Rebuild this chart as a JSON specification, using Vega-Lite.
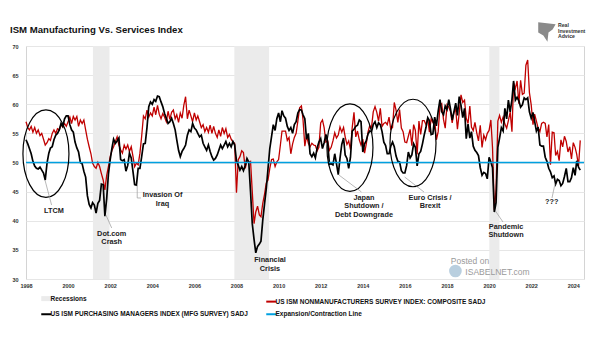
{
"$schema": "https://vega.github.io/schema/vega-lite/v6.json",
"width": 558, "height": 233,
"autosize": {"type": "none"},
"padding": {"left": 26, "top": 46, "right": 21, "bottom": 62},
"background": "white",
"title": {"text": "ISM Manufacturing Vs. Services Index", "anchor": "start", "frame": "group", "dx": -16, "offset": -12.5, "font": "Liberation Sans", "fontSize": 9.6, "fontWeight": "bold", "color": "#111111"},
"config": {"view": {"stroke": "#d4d4d4"}, "font": "Liberation Sans"},
"datasets": {
"ism": [
{"d":"1998-01","m":53.9,"s":57.0},{"d":"1998-02","m":53.2,"s":56.0},{"d":"1998-03","m":52.4,"s":55.6},{"d":"1998-04","m":51.5,"s":56.2},{"d":"1998-05","m":50.2,"s":55.2},{"d":"1998-06","m":49.4,"s":56.0},{"d":"1998-07","m":49.0,"s":55.0},{"d":"1998-08","m":48.9,"s":55.6},{"d":"1998-09","m":49.2,"s":54.6},{"d":"1998-10","m":48.7,"s":55.0},{"d":"1998-11","m":48.2,"s":54.0},{"d":"1998-12","m":47.0,"s":53.0},
{"d":"1999-01","m":49.9,"s":53.4},{"d":"1999-02","m":51.6,"s":54.1},{"d":"1999-03","m":52.5,"s":53.8},{"d":"1999-04","m":52.7,"s":55.0},{"d":"1999-05","m":53.9,"s":55.6},{"d":"1999-06","m":54.7,"s":55.0},{"d":"1999-07","m":55.0,"s":55.8},{"d":"1999-08","m":55.6,"s":55.6},{"d":"1999-09","m":56.7,"s":56.5},{"d":"1999-10","m":56.2,"s":56.1},{"d":"1999-11","m":57.5,"s":56.7},{"d":"1999-12","m":58.0,"s":56.2},
{"d":"2000-01","m":58.0,"s":57.0},{"d":"2000-02","m":56.5,"s":57.8},{"d":"2000-03","m":55.6,"s":56.7},{"d":"2000-04","m":55.2,"s":57.9},{"d":"2000-05","m":53.5,"s":57.3},{"d":"2000-06","m":52.5,"s":57.9},{"d":"2000-07","m":51.8,"s":56.2},{"d":"2000-08","m":50.0,"s":57.3},{"d":"2000-09","m":49.8,"s":56.7},{"d":"2000-10","m":48.5,"s":57.3},{"d":"2000-11","m":47.5,"s":55.6},{"d":"2000-12","m":44.3,"s":54.0},
{"d":"2001-01","m":42.8,"s":52.7},{"d":"2001-02","m":42.2,"s":51.5},{"d":"2001-03","m":43.1,"s":49.9},{"d":"2001-04","m":42.7,"s":49.3},{"d":"2001-05","m":41.3,"s":49.0},{"d":"2001-06","m":43.0,"s":50.0},{"d":"2001-07","m":43.5,"s":49.3},{"d":"2001-08","m":46.3,"s":48.1},{"d":"2001-09","m":46.2,"s":47.0},{"d":"2001-10","m":40.8,"s":45.3},{"d":"2001-11","m":43.8,"s":47.8},{"d":"2001-12","m":48.0,"s":49.3},
{"d":"2002-01","m":50.5,"s":51.0},{"d":"2002-02","m":52.5,"s":52.1},{"d":"2002-03","m":54.0,"s":52.7},{"d":"2002-04","m":53.3,"s":53.6},{"d":"2002-05","m":53.7,"s":54.4},{"d":"2002-06","m":54.2,"s":53.0},{"d":"2002-07","m":50.5,"s":52.2},{"d":"2002-08","m":50.3,"s":51.6},{"d":"2002-09","m":50.5,"s":53.0},{"d":"2002-10","m":48.5,"s":52.3},{"d":"2002-11","m":49.5,"s":53.0},{"d":"2002-12","m":51.6,"s":51.9},
{"d":"2003-01","m":50.8,"s":52.7},{"d":"2003-02","m":48.4,"s":51.0},{"d":"2003-03","m":46.2,"s":49.3},{"d":"2003-04","m":46.1,"s":49.9},{"d":"2003-05","m":49.0,"s":49.6},{"d":"2003-06","m":49.0,"s":51.6},{"d":"2003-07","m":51.0,"s":54.5},{"d":"2003-08","m":53.2,"s":58.0},{"d":"2003-09","m":53.3,"s":57.5},{"d":"2003-10","m":56.0,"s":59.0},{"d":"2003-11","m":59.6,"s":57.8},{"d":"2003-12","m":60.4,"s":58.5},
{"d":"2004-01","m":60.0,"s":58.0},{"d":"2004-02","m":60.8,"s":59.5},{"d":"2004-03","m":60.5,"s":58.2},{"d":"2004-04","m":61.4,"s":59.8},{"d":"2004-05","m":61.3,"s":58.3},{"d":"2004-06","m":60.4,"s":57.5},{"d":"2004-07","m":59.6,"s":58.4},{"d":"2004-08","m":58.4,"s":57.8},{"d":"2004-09","m":57.6,"s":57.0},{"d":"2004-10","m":56.7,"s":58.8},{"d":"2004-11","m":57.0,"s":57.4},{"d":"2004-12","m":57.6,"s":58.6},
{"d":"2005-01","m":56.7,"s":59.0},{"d":"2005-02","m":55.6,"s":57.5},{"d":"2005-03","m":53.9,"s":58.2},{"d":"2005-04","m":52.1,"s":56.9},{"d":"2005-05","m":51.0,"s":58.5},{"d":"2005-06","m":51.9,"s":57.6},{"d":"2005-07","m":52.4,"s":59.8},{"d":"2005-08","m":53.0,"s":61.3},{"d":"2005-09","m":54.7,"s":57.5},{"d":"2005-10","m":55.6,"s":59.0},{"d":"2005-11","m":55.3,"s":58.0},{"d":"2005-12","m":56.7,"s":57.0},
{"d":"2006-01","m":55.9,"s":58.5},{"d":"2006-02","m":55.6,"s":57.3},{"d":"2006-03","m":55.0,"s":58.0},{"d":"2006-04","m":54.4,"s":57.0},{"d":"2006-05","m":54.7,"s":56.0},{"d":"2006-06","m":53.3,"s":56.5},{"d":"2006-07","m":52.7,"s":55.3},{"d":"2006-08","m":52.1,"s":56.0},{"d":"2006-09","m":53.0,"s":55.2},{"d":"2006-10","m":51.9,"s":56.4},{"d":"2006-11","m":51.0,"s":55.0},{"d":"2006-12","m":50.4,"s":56.2},
{"d":"2007-01","m":50.7,"s":55.0},{"d":"2007-02","m":51.3,"s":54.3},{"d":"2007-03","m":52.1,"s":55.6},{"d":"2007-04","m":53.0,"s":54.5},{"d":"2007-05","m":52.4,"s":56.0},{"d":"2007-06","m":53.0,"s":55.0},{"d":"2007-07","m":53.6,"s":55.8},{"d":"2007-08","m":52.7,"s":54.3},{"d":"2007-09","m":53.3,"s":54.8},{"d":"2007-10","m":52.7,"s":54.0},{"d":"2007-11","m":53.6,"s":53.5},{"d":"2007-12","m":53.0,"s":53.3},
{"d":"2008-01","m":50.3,"s":44.8},{"d":"2008-02","m":49.5,"s":50.5},{"d":"2008-03","m":48.7,"s":51.0},{"d":"2008-04","m":49.3,"s":52.0},{"d":"2008-05","m":48.6,"s":51.7},{"d":"2008-06","m":49.5,"s":49.0},{"d":"2008-07","m":50.7,"s":50.3},{"d":"2008-08","m":50.1,"s":50.0},{"d":"2008-09","m":45.0,"s":50.2},{"d":"2008-10","m":39.5,"s":45.0},{"d":"2008-11","m":36.8,"s":39.5},{"d":"2008-12","m":34.5,"s":41.5},
{"d":"2009-01","m":35.6,"s":42.5},{"d":"2009-02","m":36.0,"s":41.0},{"d":"2009-03","m":36.5,"s":40.7},{"d":"2009-04","m":40.1,"s":43.0},{"d":"2009-05","m":42.8,"s":44.5},{"d":"2009-06","m":45.5,"s":46.5},{"d":"2009-07","m":48.9,"s":47.0},{"d":"2009-08","m":52.4,"s":49.0},{"d":"2009-09","m":54.5,"s":50.5},{"d":"2009-10","m":56.5,"s":50.6},{"d":"2009-11","m":55.5,"s":49.3},{"d":"2009-12","m":57.5,"s":50.1},
{"d":"2010-01","m":58.5,"s":50.5},{"d":"2010-02","m":57.0,"s":53.0},{"d":"2010-03","m":58.9,"s":55.4},{"d":"2010-04","m":58.0,"s":55.4},{"d":"2010-05","m":57.6,"s":55.4},{"d":"2010-06","m":56.2,"s":53.8},{"d":"2010-07","m":55.5,"s":54.3},{"d":"2010-08","m":56.0,"s":51.5},{"d":"2010-09","m":55.0,"s":53.2},{"d":"2010-10","m":56.5,"s":54.3},{"d":"2010-11","m":57.0,"s":55.0},{"d":"2010-12","m":58.5,"s":57.1},
{"d":"2011-01","m":59.1,"s":59.4},{"d":"2011-02","m":59.0,"s":59.7},{"d":"2011-03","m":58.2,"s":57.3},{"d":"2011-04","m":57.5,"s":52.8},{"d":"2011-05","m":54.0,"s":54.6},{"d":"2011-06","m":55.0,"s":53.3},{"d":"2011-07","m":51.5,"s":52.7},{"d":"2011-08","m":51.0,"s":53.3},{"d":"2011-09","m":51.6,"s":53.0},{"d":"2011-10","m":50.8,"s":52.9},{"d":"2011-11","m":52.5,"s":52.0},{"d":"2011-12","m":53.5,"s":52.6},
{"d":"2012-01","m":54.1,"s":56.8},{"d":"2012-02","m":52.4,"s":57.3},{"d":"2012-03","m":53.4,"s":56.0},{"d":"2012-04","m":54.8,"s":53.5},{"d":"2012-05","m":53.5,"s":53.7},{"d":"2012-06","m":49.7,"s":52.1},{"d":"2012-07","m":49.8,"s":52.6},{"d":"2012-08","m":49.6,"s":53.7},{"d":"2012-09","m":51.5,"s":55.1},{"d":"2012-10","m":49.8,"s":54.2},{"d":"2012-11","m":47.9,"s":54.7},{"d":"2012-12","m":50.7,"s":56.1},
{"d":"2013-01","m":53.1,"s":55.2},{"d":"2013-02","m":54.2,"s":56.0},{"d":"2013-03","m":51.3,"s":54.4},{"d":"2013-04","m":50.7,"s":53.1},{"d":"2013-05","m":49.0,"s":53.7},{"d":"2013-06","m":50.9,"s":52.2},{"d":"2013-07","m":55.4,"s":56.0},{"d":"2013-08","m":55.7,"s":58.6},{"d":"2013-09","m":56.2,"s":54.4},{"d":"2013-10","m":56.4,"s":55.4},{"d":"2013-11","m":57.3,"s":53.9},{"d":"2013-12","m":57.0,"s":53.0},
{"d":"2014-01","m":51.8,"s":54.0},{"d":"2014-02","m":53.2,"s":51.6},{"d":"2014-03","m":53.7,"s":53.1},{"d":"2014-04","m":54.9,"s":55.2},{"d":"2014-05","m":55.4,"s":56.3},{"d":"2014-06","m":55.3,"s":56.0},{"d":"2014-07","m":56.5,"s":58.7},{"d":"2014-08","m":57.0,"s":59.6},{"d":"2014-09","m":56.0,"s":58.6},{"d":"2014-10","m":56.8,"s":57.1},{"d":"2014-11","m":56.5,"s":59.3},{"d":"2014-12","m":55.3,"s":56.2},
{"d":"2015-01","m":53.5,"s":56.7},{"d":"2015-02","m":52.9,"s":56.9},{"d":"2015-03","m":51.5,"s":56.5},{"d":"2015-04","m":51.5,"s":57.8},{"d":"2015-05","m":52.8,"s":55.7},{"d":"2015-06","m":53.5,"s":56.0},{"d":"2015-07","m":52.7,"s":60.3},{"d":"2015-08","m":51.1,"s":59.0},{"d":"2015-09","m":50.2,"s":56.9},{"d":"2015-10","m":50.1,"s":59.1},{"d":"2015-11","m":48.6,"s":55.9},{"d":"2015-12","m":48.2,"s":55.3},
{"d":"2016-01","m":48.2,"s":53.5},{"d":"2016-02","m":49.5,"s":53.4},{"d":"2016-03","m":51.8,"s":54.5},{"d":"2016-04","m":50.8,"s":55.7},{"d":"2016-05","m":51.3,"s":52.9},{"d":"2016-06","m":53.2,"s":56.5},{"d":"2016-07","m":52.6,"s":55.5},{"d":"2016-08","m":49.4,"s":51.4},{"d":"2016-09","m":51.5,"s":57.1},{"d":"2016-10","m":51.9,"s":54.8},{"d":"2016-11","m":53.2,"s":57.2},{"d":"2016-12","m":54.7,"s":57.2},
{"d":"2017-01","m":56.0,"s":56.5},{"d":"2017-02","m":57.7,"s":57.6},{"d":"2017-03","m":57.2,"s":55.2},{"d":"2017-04","m":54.8,"s":57.5},{"d":"2017-05","m":54.9,"s":56.9},{"d":"2017-06","m":57.8,"s":57.4},{"d":"2017-07","m":56.3,"s":53.9},{"d":"2017-08","m":58.8,"s":55.3},{"d":"2017-09","m":60.8,"s":59.8},{"d":"2017-10","m":58.7,"s":60.1},{"d":"2017-11","m":58.2,"s":57.4},{"d":"2017-12","m":59.7,"s":55.9},
{"d":"2018-01","m":59.1,"s":59.9},{"d":"2018-02","m":60.8,"s":59.5},{"d":"2018-03","m":59.3,"s":58.8},{"d":"2018-04","m":57.3,"s":56.8},{"d":"2018-05","m":58.7,"s":58.6},{"d":"2018-06","m":60.2,"s":59.1},{"d":"2018-07","m":58.1,"s":55.7},{"d":"2018-08","m":61.3,"s":58.5},{"d":"2018-09","m":59.8,"s":61.6},{"d":"2018-10","m":57.7,"s":60.3},{"d":"2018-11","m":59.3,"s":60.7},{"d":"2018-12","m":54.1,"s":57.6},
{"d":"2019-01","m":56.6,"s":56.7},{"d":"2019-02","m":54.2,"s":59.7},{"d":"2019-03","m":55.3,"s":56.1},{"d":"2019-04","m":52.8,"s":55.5},{"d":"2019-05","m":52.1,"s":56.9},{"d":"2019-06","m":51.7,"s":55.1},{"d":"2019-07","m":51.2,"s":53.7},{"d":"2019-08","m":49.1,"s":56.4},{"d":"2019-09","m":47.8,"s":52.6},{"d":"2019-10","m":48.3,"s":54.7},{"d":"2019-11","m":48.1,"s":53.9},{"d":"2019-12","m":47.2,"s":55.0},
{"d":"2020-01","m":50.9,"s":55.5},{"d":"2020-02","m":50.1,"s":57.3},{"d":"2020-03","m":49.1,"s":52.5},{"d":"2020-04","m":41.5,"s":41.8},{"d":"2020-05","m":43.1,"s":45.4},{"d":"2020-06","m":52.6,"s":57.1},{"d":"2020-07","m":54.2,"s":58.1},{"d":"2020-08","m":56.0,"s":56.9},{"d":"2020-09","m":55.4,"s":57.8},{"d":"2020-10","m":59.3,"s":56.6},{"d":"2020-11","m":57.5,"s":55.9},{"d":"2020-12","m":60.7,"s":57.2},
{"d":"2021-01","m":58.7,"s":58.7},{"d":"2021-02","m":60.8,"s":55.3},{"d":"2021-03","m":64.0,"s":63.7},{"d":"2021-04","m":60.7,"s":62.7},{"d":"2021-05","m":61.2,"s":64.0},{"d":"2021-06","m":60.6,"s":60.1},{"d":"2021-07","m":59.5,"s":64.1},{"d":"2021-08","m":59.9,"s":61.7},{"d":"2021-09","m":61.1,"s":61.9},{"d":"2021-10","m":60.8,"s":66.7},{"d":"2021-11","m":61.1,"s":67.6},{"d":"2021-12","m":58.7,"s":62.0},
{"d":"2022-01","m":57.6,"s":59.9},{"d":"2022-02","m":58.6,"s":56.5},{"d":"2022-03","m":57.1,"s":58.3},{"d":"2022-04","m":55.4,"s":57.1},{"d":"2022-05","m":56.1,"s":55.9},{"d":"2022-06","m":53.0,"s":55.3},{"d":"2022-07","m":52.8,"s":56.7},{"d":"2022-08","m":52.8,"s":56.9},{"d":"2022-09","m":50.9,"s":56.7},{"d":"2022-10","m":50.2,"s":54.4},{"d":"2022-11","m":49.0,"s":56.5},{"d":"2022-12","m":48.4,"s":49.6},
{"d":"2023-01","m":47.4,"s":55.2},{"d":"2023-02","m":47.7,"s":55.1},{"d":"2023-03","m":46.3,"s":51.2},{"d":"2023-04","m":47.1,"s":51.9},{"d":"2023-05","m":46.9,"s":50.3},{"d":"2023-06","m":46.0,"s":53.9},{"d":"2023-07","m":46.4,"s":52.7},{"d":"2023-08","m":47.6,"s":54.5},{"d":"2023-09","m":49.0,"s":53.6},{"d":"2023-10","m":46.7,"s":51.8},{"d":"2023-11","m":46.7,"s":52.7},{"d":"2023-12","m":47.4,"s":50.6},
{"d":"2024-01","m":49.1,"s":53.4},{"d":"2024-02","m":47.8,"s":52.6},{"d":"2024-03","m":50.3,"s":51.4},{"d":"2024-04","m":49.2,"s":49.4},{"d":"2024-05","m":48.7,"s":53.8}
]
},
"layer": [
{
"data": {"values": [{"d": "2001-03-07", "e": "2001-12-20"}, {"d": "2007-11-25", "e": "2009-07-20"}, {"d": "2020-01-05", "e": "2020-06-28"}]},
"mark": {"type": "rect"},
"encoding": {
"x": {"field": "d", "type": "temporal", "title": null,
"scale": {"domain": [{"year": 1998, "month": 1, "date": 1}, {"year": 2024, "month": 7, "date": 5}]},
"axis": {"format": "%Y", "tickCount": {"interval": "year", "step": 2}, "grid": false, "ticks": false, "domain": false, "labelFont": "Liberation Sans", "labelFontSize": 5.5, "labelFontWeight": "bold", "labelColor": "#333333", "labelPadding": 4, "labelFlush": false, "labelOverlap": false}},
"x2": {"field": "e"},
"color": {"datum": "Recessions", "type": "nominal",
"scale": {"domain": ["Recessions", "US ISM PURCHASING MANAGERS INDEX (MFG SURVEY) SADJ", "US ISM NONMANUFACTURERS SURVEY INDEX: COMPOSITE SADJ", "Expansion/Contraction Line"], "range": ["#ebebeb", "#000000", "#c00000", "#00a0e0"]},
"legend": {"title": null, "orient": "none", "legendX": 17, "legendY": 249, "columns": 2, "symbolType": "stroke", "symbolSize": 100, "symbolStrokeWidth": 2, "labelFont": "Liberation Sans", "labelFontSize": 6.5, "labelFontWeight": "bold", "labelColor": "#111111", "labelOffset": 1, "rowPadding": 1, "columnPadding": 14, "padding": 0, "labelLimit": 400,
"encode": {"symbols": {"update": {"strokeWidth": {"signal": "datum.value === 'Recessions' ? 5 : 2"}}}}}
}
}
},
{
"data": {"name": "ism"},
"mark": {"type": "line", "strokeWidth": 1.3},
"encoding": {
"x": {"field": "d", "type": "temporal", "title": null},
"y": {"field": "s", "type": "quantitative", "title": null,
"scale": {"domain": [30, 70], "nice": false, "zero": false},
"axis": {"values": [30, 35, 40, 45, 50, 55, 60, 65, 70], "tickCount": 12, "grid": true, "gridColor": "#e6e6e6", "ticks": false, "domain": false, "labelFont": "Liberation Sans", "labelFontSize": 5.5, "labelFontWeight": "bold", "labelColor": "#333333", "labelPadding": 8, "labelOverlap": false}},
"color": {"datum": "US ISM NONMANUFACTURERS SURVEY INDEX: COMPOSITE SADJ", "type": "nominal"}
}
},
{
"data": {"name": "ism"},
"mark": {"type": "line", "strokeWidth": 1.7},
"encoding": {
"x": {"field": "d", "type": "temporal", "title": null},
"y": {"field": "m", "type": "quantitative", "title": null},
"color": {"datum": "US ISM PURCHASING MANAGERS INDEX (MFG SURVEY) SADJ", "type": "nominal"}
}
},
{
"data": {"values": [{"v": 50}]},
"mark": {"type": "rule", "strokeWidth": 1.6},
"encoding": {
"y": {"field": "v", "type": "quantitative", "title": null},
"color": {"datum": "Expansion/Contraction Line", "type": "nominal"}
}
},
{
"data": {"values": [
{"d": "1998-12-13", "v": 51.51},
{"d": "2013-05-23", "v": 52.57},
{"d": "2016-05-21", "v": 53.35}
]},
"mark": {"type": "point", "shape": "M -0.526 0 A 0.526 1 0 1 0 0.526 0 A 0.526 1 0 1 0 -0.526 0 Z", "size": 7656, "filled": false, "stroke": "#000000", "strokeWidth": 1.2, "opacity": 1},
"encoding": {
"x": {"field": "d", "type": "temporal", "title": null},
"y": {"field": "v", "type": "quantitative", "title": null}
}
},
{
"data": {"values": [
{"d": "1998-11-26", "e": "1999-03-21", "v": 47.0, "w": 42.7},
{"d": "2001-10-19", "e": "2002-01-27", "v": 40.99, "w": 38.76},
{"d": "2003-04-15", "e": "2003-04-15", "v": 46.14, "w": 43.91},
{"d": "2003-04-15", "e": "2003-06-18", "v": 43.91, "w": 43.91},
{"d": "2012-11-13", "e": "2013-12-08", "v": 47.85, "w": 44.94},
{"d": "2015-12-28", "e": "2016-11-27", "v": 47.51, "w": 44.94},
{"d": "2020-04-21", "e": "2020-08-29", "v": 41.67, "w": 39.79},
{"d": "2023-02-17", "e": "2022-12-28", "v": 46.31, "w": 43.91}
]},
"mark": {"type": "rule", "stroke": "#9a9a9a", "strokeWidth": 0.7},
"encoding": {
"x": {"field": "d", "type": "temporal", "title": null},
"x2": {"field": "e"},
"y": {"field": "v", "type": "quantitative", "title": null},
"y2": {"field": "w"}
}
},
{
"data": {"values": [
{"t": "LTCM", "d": "1999-05-01", "v": 42.31},
{"t": "Dot.com\nCrash", "d": "2002-01-27", "v": 38.43},
{"t": "Invasion Of\nIraq", "d": "2004-06-27", "v": 45.06},
{"t": "Financial\nCrisis", "d": "2009-08-04", "v": 33.96},
{"t": "Japan\nShutdown /\nDebt Downgrade", "d": "2014-01-21", "v": 44.61},
{"t": "Euro Crisis /\nBrexit", "d": "2017-03-12", "v": 44.61},
{"t": "Pandemic\nShutdown", "d": "2020-10-21", "v": 39.68},
{"t": "???", "d": "2022-12-22", "v": 43.85}
]},
"mark": {"type": "text", "align": "center", "baseline": "top", "lineBreak": "\n", "lineHeight": 8.6, "font": "Liberation Sans", "fontSize": 7.3, "fontWeight": "bold", "color": "#222222"},
"encoding": {
"x": {"field": "d", "type": "temporal", "title": null},
"y": {"field": "v", "type": "quantitative", "title": null},
"text": {"field": "t"}
}
},
{
"data": {"values": [{"d": "2018-05-27", "v": 31.37}]},
"mark": {"type": "point", "shape": "circle", "size": 160, "filled": true, "color": "#b9cfdf", "opacity": 1},
"encoding": {
"x": {"field": "d", "type": "temporal", "title": null},
"y": {"field": "v", "type": "quantitative", "title": null}
}
},
{
"data": {"values": [{"t": "Posted on", "d": "2019-02-04", "v": 33.14}, {"t": "ISABELNET.com", "d": "2020-05-26", "v": 31.25}]},
"mark": {"type": "text", "align": "center", "baseline": "middle", "font": "Liberation Sans", "fontSize": 8.5, "color": "#9a9a9a"},
"encoding": {
"x": {"field": "d", "type": "temporal", "title": null},
"y": {"field": "v", "type": "quantitative", "title": null},
"text": {"field": "t"}
}
},
{
"data": {"values": [{"t": "Real\nInvestment\nAdvice", "d": "2023-04-10", "v": 73.88}]},
"mark": {"type": "text", "align": "left", "baseline": "top", "lineBreak": "\n", "lineHeight": 5.5, "font": "Liberation Sans", "fontSize": 5.2, "fontWeight": "bold", "color": "#333333"},
"encoding": {
"x": {"field": "d", "type": "temporal", "title": null},
"y": {"field": "v", "type": "quantitative", "title": null},
"text": {"field": "t"}
}
},
{
"data": {"values": [{"d": "2022-09-22", "v": 72.49}]},
"mark": {"type": "point", "shape": "M -0.8 -0.9 L 0.9 -0.7 L 0.6 -0.2 L 0.2 0.1 L 0.1 1 L -0.3 0.4 L -0.8 0.1 Z", "size": 420, "filled": true, "color": "#8a8a8a", "opacity": 1},
"encoding": {
"x": {"field": "d", "type": "temporal", "title": null},
"y": {"field": "v", "type": "quantitative", "title": null}
}
}
]
}
